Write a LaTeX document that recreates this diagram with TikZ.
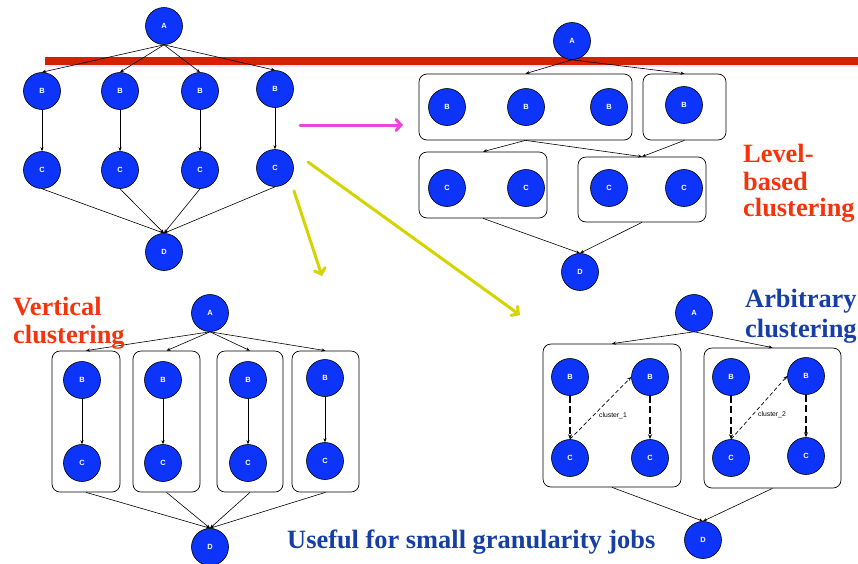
\documentclass[tikz,border=0pt]{standalone}
\usepackage{fontspec}
\setmainfont{Liberation Serif}
\newfontfamily\nodefont{Liberation Sans}
\usetikzlibrary{arrows.meta}
\definecolor{nodeblue}{RGB}{12,52,250}
\definecolor{barred}{RGB}{214,32,0}
\definecolor{lblred}{RGB}{245,52,12}
\definecolor{lblblue}{RGB}{22,62,165}
\definecolor{magarrow}{RGB}{235,70,220}
\definecolor{yelarrow}{RGB}{212,212,0}
\tikzset{
  job/.style={circle, draw=black, line width=0.6pt, fill=nodeblue, minimum size=37pt, inner sep=0pt,
    text=white, font=\nodefont\bfseries\fontsize{7.5}{8}\selectfont},
  clus/.style={draw=black, line width=0.7pt, rounded corners=8pt, fill=none, inner sep=0pt},
  edge/.style={draw=black, line width=0.6pt, -{Stealth[length=4pt,width=3.2pt]}},
  thickdash/.style={draw=black, line width=1.4pt, dash pattern=on 7pt off 3.5pt, -{Stealth[length=5pt,width=4pt]}},
  thindash/.style={draw=black, line width=0.7pt, dash pattern=on 4pt off 2.5pt, -{Stealth[length=4pt,width=3.2pt]}},
  bigarrow/.style={line width=3pt, line cap=round, -{Straight Barb[length=5pt,width=11pt,line cap=round]}},
  lbl/.style={anchor=base west, inner sep=0pt, font=\bfseries\fontsize{26.4}{28}\selectfont},
  smalllbl/.style={inner sep=0pt, font=\nodefont\fontsize{6.8}{7}\selectfont}
}
\begin{document}
\begin{tikzpicture}[x=1pt,y=-1pt]
\useasboundingbox (0,0) rectangle (858,563);
\fill[white] (0,0) rectangle (858,563);

% red bar with faint shadow
\fill[blue!10] (45,65) rectangle (858,67);
\fill[barred] (45,57) rectangle (858,65);

% ---------------- top-left graph ----------------
\node[job] (tA) at (164,26) {A};
\node[job] (tB1) at (42,91) {B};
\node[job] (tB2) at (120,91) {B};
\node[job] (tB3) at (200,91) {B};
\node[job] (tB4) at (275,89) {B};
\node[job] (tC1) at (42,170) {C};
\node[job] (tC2) at (120,170) {C};
\node[job] (tC3) at (200,170) {C};
\node[job] (tC4) at (275,168) {C};
\node[job] (tD) at (164,252) {D};
\foreach \i in {1,...,4}{
  \draw[edge] (tA.south) -- (tB\i.north);
  \draw[edge] (tB\i.south) -- (tC\i.north);
  \draw[edge] (tC\i.south) -- (tD.north);
}

% ---------------- level-based (top-right) ----------------
\node[clus, minimum width=213pt, minimum height=66pt] (L1) at (525.5,107) {};
\node[clus, minimum width=83pt, minimum height=66pt] (L2) at (684.5,107) {};
\node[clus, minimum width=128pt, minimum height=66pt] (L3) at (483,185) {};
\node[clus, minimum width=128pt, minimum height=65pt] (L4) at (642,189.5) {};
\node[job] (rA) at (572,41) {A};
\node[job] (rB1) at (447,107) {B};
\node[job] (rB2) at (526,107) {B};
\node[job] (rB3) at (609,107) {B};
\node[job] (rB4) at (684,105) {B};
\node[job] (rC1) at (447,188) {C};
\node[job] (rC2) at (526,188) {C};
\node[job] (rC3) at (609,188) {C};
\node[job] (rC4) at (684,188) {C};
\node[job] (rD) at (580,272) {D};
\draw[edge] (rA.south) -- (L1.north);
\draw[edge] (rA.south) -- (L2.north);
\draw[edge] (L1.south) -- (L3.north);
\draw[edge] (L1.south) -- (L4.north);
\draw[edge] (L2.south) -- (L4.north);
\draw[edge] (L3.south) -- (rD.north);
\draw[edge] (L4.south) -- (rD.north);
\node[lbl, text=lblred] (lv1) at (743,162) {Level-};
\node[lbl, text=lblred] (lv2) at (743,190) {based};
\node[lbl, text=lblred] (lv3) at (743,216) {clustering};

% ---------------- vertical (bottom-left) ----------------
\node[clus, minimum width=68pt, minimum height=141pt] (V1) at (86,421.5) {};
\node[clus, minimum width=67pt, minimum height=141pt] (V2) at (166.5,421.5) {};
\node[clus, minimum width=66pt, minimum height=141pt] (V3) at (250,421.5) {};
\node[clus, minimum width=67pt, minimum height=141pt] (V4) at (325.5,421.5) {};
\node[job] (vA) at (210,313) {A};
\node[job] (vB1) at (82,380) {B};
\node[job] (vB2) at (163,380) {B};
\node[job] (vB3) at (248,380) {B};
\node[job] (vB4) at (325,378) {B};
\node[job] (vC1) at (82,463) {C};
\node[job] (vC2) at (163,463) {C};
\node[job] (vC3) at (248,463) {C};
\node[job] (vC4) at (325,461) {C};
\node[job] (vD) at (210,547) {D};
\foreach \i in {1,...,4}{
  \draw[edge] (vA.south) -- (V\i.north);
  \draw[edge] (vB\i.south) -- (vC\i.north);
  \draw[edge] (V\i.south) -- (vD.north);
}
\node[lbl, text=lblred] (vt1) at (13,315) {Vertical};
\node[lbl, text=lblred] (vt2) at (13,343) {clustering};

% ---------------- arbitrary (bottom-right) ----------------
\node[clus, minimum width=138pt, minimum height=143pt] (X1) at (612,415.5) {};
\node[clus, minimum width=137pt, minimum height=140pt] (X2) at (772.5,418) {};
\node[job] (xA) at (694,313) {A};
\node[job] (xB1) at (570,377) {B};
\node[job] (xB2) at (650,377) {B};
\node[job] (xB3) at (731,377) {B};
\node[job] (xB4) at (806,376) {B};
\node[job] (xC1) at (570,458) {C};
\node[job] (xC2) at (650,458) {C};
\node[job] (xC3) at (731,458) {C};
\node[job] (xC4) at (806,456) {C};
\node[job] (xD) at (703,540) {D};
\draw[edge] (xA.south) -- (X1.north);
\draw[edge] (xA.south) -- (X2.north);
\draw[edge] (X1.south) -- (xD.north);
\draw[edge] (X2.south) -- (xD.north);
\draw[thickdash] (xB1.south) -- (xC1.north);
\draw[thindash] (xC1.north) -- (xB2.west);
\draw[thickdash] (xB2.south) -- (xC2.north);
\draw[thickdash] (xB3.south) -- (xC3.north);
\draw[thindash] (xC3.north) -- (xB4.west);
\draw[thickdash] (xB4.south) -- (xC4.north);
\node[smalllbl] (cl1) at (613,416) {cluster\_1};
\node[smalllbl] (cl2) at (772,415) {cluster\_2};
\node[lbl, text=lblblue] (ar1) at (745,307) {Arbitrary};
\node[lbl, text=lblblue] (ar2) at (745,337) {clustering};

\node[lbl, text=lblblue] (useful) at (287,548) {Useful for small granularity jobs};

% ---------------- big arrows ----------------
\coordinate (m1) at (300,125);
\coordinate (m2) at (403,125);
\draw[bigarrow, magarrow] (m1) -- (m2);
\coordinate (y1) at (294,191);
\coordinate (y2) at (322,276);
\draw[bigarrow, yelarrow] (y1) -- (y2);
\coordinate (y3) at (308,162);
\coordinate (y4) at (520,315);
\draw[bigarrow, yelarrow] (y3) -- (y4);
\end{tikzpicture}
\end{document}
